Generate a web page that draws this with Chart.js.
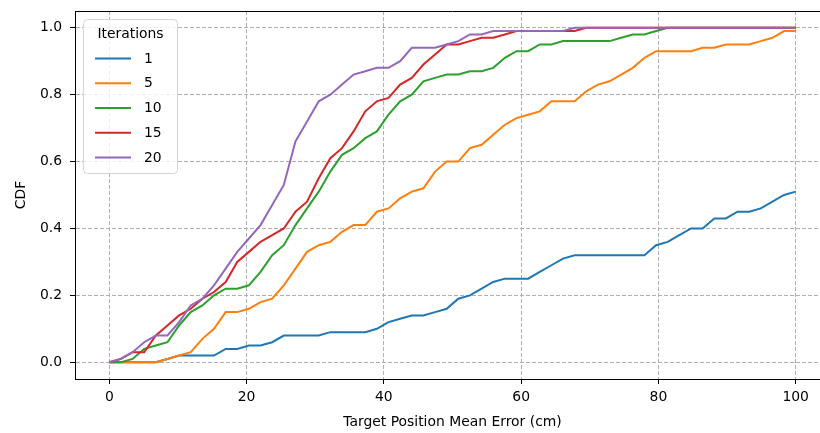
<!DOCTYPE html>
<html>
<head>
<meta charset="utf-8">
<script src="https://cdn.jsdelivr.net/npm/chart.js@4.4.1/dist/chart.umd.min.js"></script>
<style>
  html, body { margin: 0; padding: 0; background: #fff; overflow: hidden; }
  #wrap { width: 840px; height: 433px; }
</style>
</head>
<body>
<div id="wrap"><canvas id="cdf" width="840" height="433"></canvas></div>
<script>
// Mean target position error (cm) at which each CDF sample is taken
const errorCm = [
  0, 1.69, 3.39, 5.08, 6.78, 8.47, 10.17, 11.86, 13.56, 15.25,
  16.95, 18.64, 20.34, 22.03, 23.73, 25.42, 27.12, 28.81, 30.51, 32.20,
  33.90, 35.59, 37.29, 38.98, 40.68, 42.37, 44.07, 45.76, 47.46, 49.15,
  50.85, 52.54, 54.24, 55.93, 57.63, 59.32, 61.02, 62.71, 64.41, 66.10,
  67.80, 69.49, 71.19, 72.88, 74.58, 76.27, 77.97, 79.66, 81.36, 83.05,
  84.75, 86.44, 88.14, 89.83, 91.53, 93.22, 94.92, 96.61, 98.31, 100
];

// CDF per number of iterations
const cdfIter1 = [
  0, 0, 0, 0, 0, 0.01, 0.02, 0.02, 0.02, 0.02,
  0.04, 0.04, 0.05, 0.05, 0.06, 0.08, 0.08, 0.08, 0.08, 0.09,
  0.09, 0.09, 0.09, 0.10, 0.12, 0.13, 0.14, 0.14, 0.15, 0.16,
  0.19, 0.20, 0.22, 0.24, 0.25, 0.25, 0.25, 0.27, 0.29, 0.31,
  0.32, 0.32, 0.32, 0.32, 0.32, 0.32, 0.32, 0.35, 0.36, 0.38,
  0.40, 0.40, 0.43, 0.43, 0.45, 0.45, 0.46, 0.48, 0.50, 0.51
];
const cdfIter5 = [
  0, 0, 0, 0, 0, 0.01, 0.02, 0.03, 0.07, 0.10,
  0.15, 0.15, 0.16, 0.18, 0.19, 0.23, 0.28, 0.33, 0.35, 0.36,
  0.39, 0.41, 0.41, 0.45, 0.46, 0.49, 0.51, 0.52, 0.57, 0.60,
  0.60, 0.64, 0.65, 0.68, 0.71, 0.73, 0.74, 0.75, 0.78, 0.78,
  0.78, 0.81, 0.83, 0.84, 0.86, 0.88, 0.91, 0.93, 0.93, 0.93,
  0.93, 0.94, 0.94, 0.95, 0.95, 0.95, 0.96, 0.97, 0.99, 0.99
];
const cdfIter10 = [
  0, 0, 0.01, 0.04, 0.05, 0.06, 0.11, 0.15, 0.17, 0.20,
  0.22, 0.22, 0.23, 0.27, 0.32, 0.35, 0.41, 0.46, 0.51, 0.57,
  0.62, 0.64, 0.67, 0.69, 0.74, 0.78, 0.80, 0.84, 0.85, 0.86,
  0.86, 0.87, 0.87, 0.88, 0.91, 0.93, 0.93, 0.95, 0.95, 0.96,
  0.96, 0.96, 0.96, 0.96, 0.97, 0.98, 0.98, 0.99, 1, 1,
  1, 1, 1, 1, 1, 1, 1, 1, 1, 1
];
const cdfIter15 = [
  0, 0.01, 0.03, 0.03, 0.08, 0.11, 0.14, 0.16, 0.19, 0.21,
  0.24, 0.30, 0.33, 0.36, 0.38, 0.40, 0.45, 0.48, 0.55, 0.61,
  0.64, 0.69, 0.75, 0.78, 0.79, 0.83, 0.85, 0.89, 0.92, 0.95,
  0.95, 0.96, 0.97, 0.97, 0.98, 0.99, 0.99, 0.99, 0.99, 0.99,
  0.99, 1, 1, 1, 1, 1, 1, 1, 1, 1,
  1, 1, 1, 1, 1, 1, 1, 1, 1, 1
];
const cdfIter20 = [
  0, 0.01, 0.03, 0.06, 0.08, 0.08, 0.12, 0.17, 0.19, 0.23,
  0.28, 0.33, 0.37, 0.41, 0.47, 0.53, 0.66, 0.72, 0.78, 0.80,
  0.83, 0.86, 0.87, 0.88, 0.88, 0.90, 0.94, 0.94, 0.94, 0.95,
  0.96, 0.98, 0.98, 0.99, 0.99, 0.99, 0.99, 0.99, 0.99, 0.99,
  1, 1, 1, 1, 1, 1, 1, 1, 1, 1,
  1, 1, 1, 1, 1, 1, 1, 1, 1, 1
];

const iterationLabels = ['1', '5', '10', '15', '20'];
const iterationColors = ['#1f77b4', '#ff7f0e', '#2ca02c', '#d62728', '#9467bd'];
const legendTitle = 'Iterations';
const xTickValues = [0, 20, 40, 60, 80, 100];
const yTickValues = [0, 0.2, 0.4, 0.6, 0.8, 1.0];
const xTitle = 'Target Position Mean Error (cm)';
const yTitle = 'CDF';

const FONT = '"DejaVu Sans", "Liberation Sans", sans-serif';
const seriesValues = [cdfIter1, cdfIter5, cdfIter10, cdfIter15, cdfIter20];

const datasets = seriesValues.map((vals, k) => ({
  label: iterationLabels[k],
  data: vals.map((v, i) => ({ x: errorCm[i], y: v })),
  borderColor: iterationColors[k],
  backgroundColor: iterationColors[k],
  borderWidth: 2,
  pointRadius: 0,
  tension: 0,
  fill: false,
  order: seriesValues.length - k
}));

// Top/right spines of the axes box
const frame = {
  id: 'frame',
  afterDatasetsDraw(chart) {
    const { ctx, chartArea: a } = chart;
    ctx.save();
    ctx.strokeStyle = '#000';
    ctx.lineWidth = 1;
    ctx.beginPath();
    ctx.moveTo(a.left, a.top + 0.5);
    ctx.lineTo(a.right, a.top + 0.5);
    ctx.lineTo(a.right, a.bottom);
    ctx.stroke();
    ctx.restore();
  }
};

// Boxed legend with title in the upper-left corner of the plot
const iterLegend = {
  id: 'iterLegend',
  afterDraw(chart) {
    const ctx = chart.ctx;
    ctx.save();
    ctx.beginPath();
    ctx.roundRect(83.5, 19.5, 94, 154, 4);
    ctx.fillStyle = 'rgba(255,255,255,0.8)';
    ctx.fill();
    ctx.strokeStyle = '#d4d4d4';
    ctx.lineWidth = 1;
    ctx.stroke();
    ctx.font = '13.9px ' + FONT;
    ctx.fillStyle = '#000';
    ctx.textBaseline = 'middle';
    ctx.textAlign = 'center';
    ctx.fillText(legendTitle, 130.5, 34);
    chart.data.datasets.forEach((ds, k) => {
      const y = 58.5 + k * 24.75;
      ctx.strokeStyle = ds.borderColor;
      ctx.lineWidth = 2;
      ctx.beginPath();
      ctx.moveTo(95, y);
      ctx.lineTo(131, y);
      ctx.stroke();
      ctx.textAlign = 'left';
      ctx.fillText(ds.label, 144, y + 0.5);
    });
    ctx.restore();
  }
};

const gridStyle = {
  color: '#b0b0b0',
  lineWidth: 1,
  tickColor: '#000',
  tickLength: 5,
  tickWidth: 1,
  tickBorderDash: []
};
const borderStyle = { display: true, color: '#000', width: 1, dash: [4, 2] };

new Chart(document.getElementById('cdf'), {
  type: 'line',
  data: { datasets },
  plugins: [frame, iterLegend],
  options: {
    responsive: false,
    animation: false,
    devicePixelRatio: 1,
    layout: { padding: { top: 11, right: 10, left: 0, bottom: 0 } },
    plugins: { legend: { display: false }, tooltip: { enabled: false } },
    scales: {
      x: {
        type: 'linear',
        min: -5,
        max: 105,
        grid: gridStyle,
        border: borderStyle,
        afterBuildTicks: s => { s.ticks = xTickValues.map(v => ({ value: v })); },
        afterFit: s => { s.height = 54; s.paddingLeft = 0; s.paddingRight = 0; },
        ticks: {
          color: '#000',
          padding: 5,
          maxRotation: 0,
          font: { family: FONT, size: 13.9 },
          callback: v => String(v)
        },
        title: {
          display: true,
          text: xTitle,
          color: '#000',
          font: { family: FONT, size: 13.9 },
          padding: { top: 0, bottom: 2 }
        }
      },
      y: {
        type: 'linear',
        min: -0.05,
        max: 1.05,
        grid: gridStyle,
        border: borderStyle,
        afterBuildTicks: s => { s.ticks = yTickValues.map(v => ({ value: v })); },
        afterFit: s => { s.width = 75; s.paddingTop = 0; s.paddingBottom = 0; },
        ticks: {
          color: '#000',
          padding: 8,
          font: { family: FONT, size: 13.9 },
          callback: v => Number(v).toFixed(1)
        },
        title: {
          display: true,
          text: yTitle,
          color: '#000',
          font: { family: FONT, size: 13.9 },
          padding: { top: 13, bottom: 0 }
        }
      }
    }
  }
});
</script>
</body>
</html>
